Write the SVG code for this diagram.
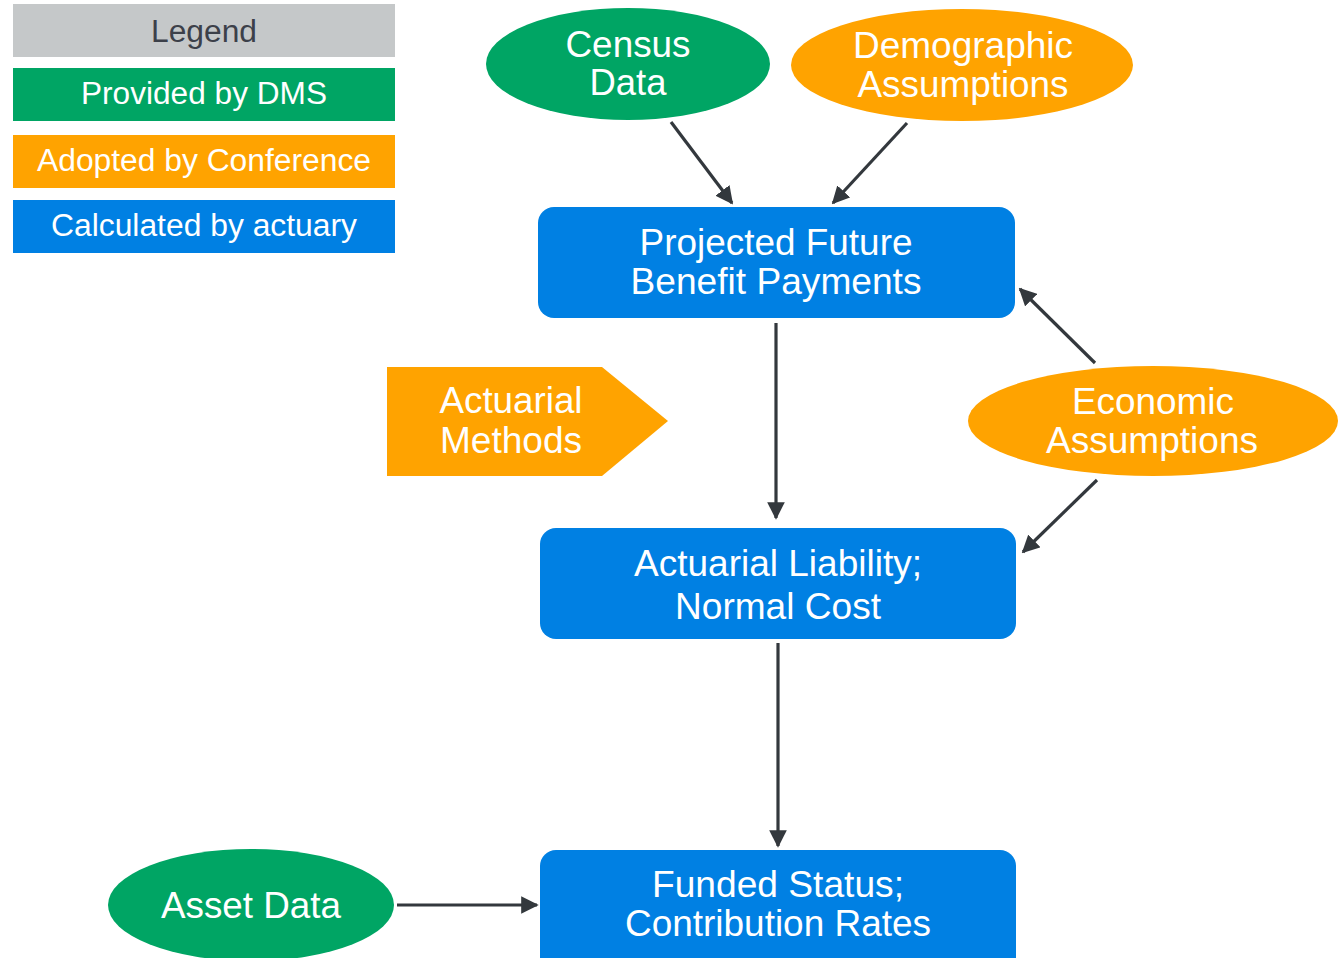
<svg xmlns="http://www.w3.org/2000/svg" width="1344" height="958" viewBox="0 0 1344 958">
<defs>
<style>
.t{font-family:"Liberation Sans",Arial,sans-serif;fill:#fff;text-anchor:middle}
.lg{font-size:31px}
.n{font-size:37px}
.c{font-size:36px}
.green{fill:#00A564}
.orange{fill:#FFA300}
.blue{fill:#0080E3}
.edge{stroke:#33383d;stroke-width:3.2;fill:none;marker-end:url(#ah)}
</style>
<marker id="ah" viewBox="0 0 10 10" refX="9" refY="5" markerWidth="5.5" markerHeight="5.5" orient="auto" markerUnits="strokeWidth">
<path d="M0,0 L10,5 L0,10 z" fill="#33383d"/>
</marker>
</defs>
<rect width="1344" height="958" fill="#fff"/>
<g id="legend">
<rect x="13" y="4" width="382" height="53" fill="#C5C8C9"/>
<text class="t lg" x="204" y="42" style="fill:#3c4049" textLength="106" lengthAdjust="spacingAndGlyphs">Legend</text>
<rect class="green" x="13" y="68" width="382" height="53"/>
<text class="t lg" x="204" y="104" textLength="246" lengthAdjust="spacingAndGlyphs">Provided by DMS</text>
<rect class="orange" x="13" y="135" width="382" height="53"/>
<text class="t lg" x="204" y="171" textLength="334" lengthAdjust="spacingAndGlyphs">Adopted by Conference</text>
<rect class="blue" x="13" y="200" width="382" height="53"/>
<text class="t lg" x="204" y="236" textLength="306" lengthAdjust="spacingAndGlyphs">Calculated by actuary</text>
</g>
<g id="census">
<ellipse class="green" cx="628" cy="64" rx="142" ry="56"/>
<text class="t c" x="628" y="57" textLength="125" lengthAdjust="spacingAndGlyphs">Census</text>
<text class="t c" x="628" y="95" textLength="77" lengthAdjust="spacingAndGlyphs">Data</text>
</g>
<g id="demographic">
<ellipse class="orange" cx="962" cy="65" rx="171" ry="56"/>
<text class="t c" x="963" y="58" textLength="220" lengthAdjust="spacingAndGlyphs">Demographic</text>
<text class="t c" x="963" y="97" textLength="211" lengthAdjust="spacingAndGlyphs">Assumptions</text>
</g>
<g id="projected">
<rect class="blue" x="538" y="207" width="477" height="111" rx="16"/>
<text class="t c" x="776" y="255" textLength="273" lengthAdjust="spacingAndGlyphs">Projected Future</text>
<text class="t c" x="776" y="294" textLength="291" lengthAdjust="spacingAndGlyphs">Benefit Payments</text>
</g>
<g id="methods">
<polygon class="orange" points="387,367 602,367 668,421 602,476 387,476"/>
<text class="t n" x="511" y="413" textLength="143" lengthAdjust="spacingAndGlyphs">Actuarial</text>
<text class="t n" x="511" y="453" textLength="142" lengthAdjust="spacingAndGlyphs">Methods</text>
</g>
<g id="economic">
<ellipse class="orange" cx="1153" cy="421" rx="185" ry="55"/>
<text class="t n" x="1153" y="414" textLength="162" lengthAdjust="spacingAndGlyphs">Economic</text>
<text class="t n" x="1152" y="453" textLength="212" lengthAdjust="spacingAndGlyphs">Assumptions</text>
</g>
<g id="liability">
<rect class="blue" x="540" y="528" width="476" height="111" rx="16"/>
<text class="t n" x="778" y="576" textLength="288" lengthAdjust="spacingAndGlyphs">Actuarial Liability;</text>
<text class="t n" x="778" y="619" textLength="206" lengthAdjust="spacingAndGlyphs">Normal Cost</text>
</g>
<g id="funded">
<rect class="blue" x="540" y="850" width="476" height="130" rx="16"/>
<text class="t c" x="778" y="897" textLength="252" lengthAdjust="spacingAndGlyphs">Funded Status;</text>
<text class="t c" x="778" y="936" textLength="306" lengthAdjust="spacingAndGlyphs">Contribution Rates</text>
</g>
<g id="asset">
<ellipse class="green" cx="251" cy="905" rx="143" ry="56"/>
<text class="t c" x="251" y="918" textLength="180" lengthAdjust="spacingAndGlyphs">Asset Data</text>
</g>
<g id="connectors">
<line class="edge" x1="671" y1="122" x2="732" y2="203"/>
<line class="edge" x1="907" y1="123" x2="833" y2="203"/>
<line class="edge" x1="776" y1="323" x2="776" y2="518"/>
<line class="edge" x1="1095" y1="363" x2="1020" y2="289"/>
<line class="edge" x1="1097" y1="480" x2="1023" y2="552"/>
<line class="edge" x1="778" y1="643" x2="778" y2="846"/>
<line class="edge" x1="397" y1="905" x2="537" y2="905"/>
</g>
</svg>
